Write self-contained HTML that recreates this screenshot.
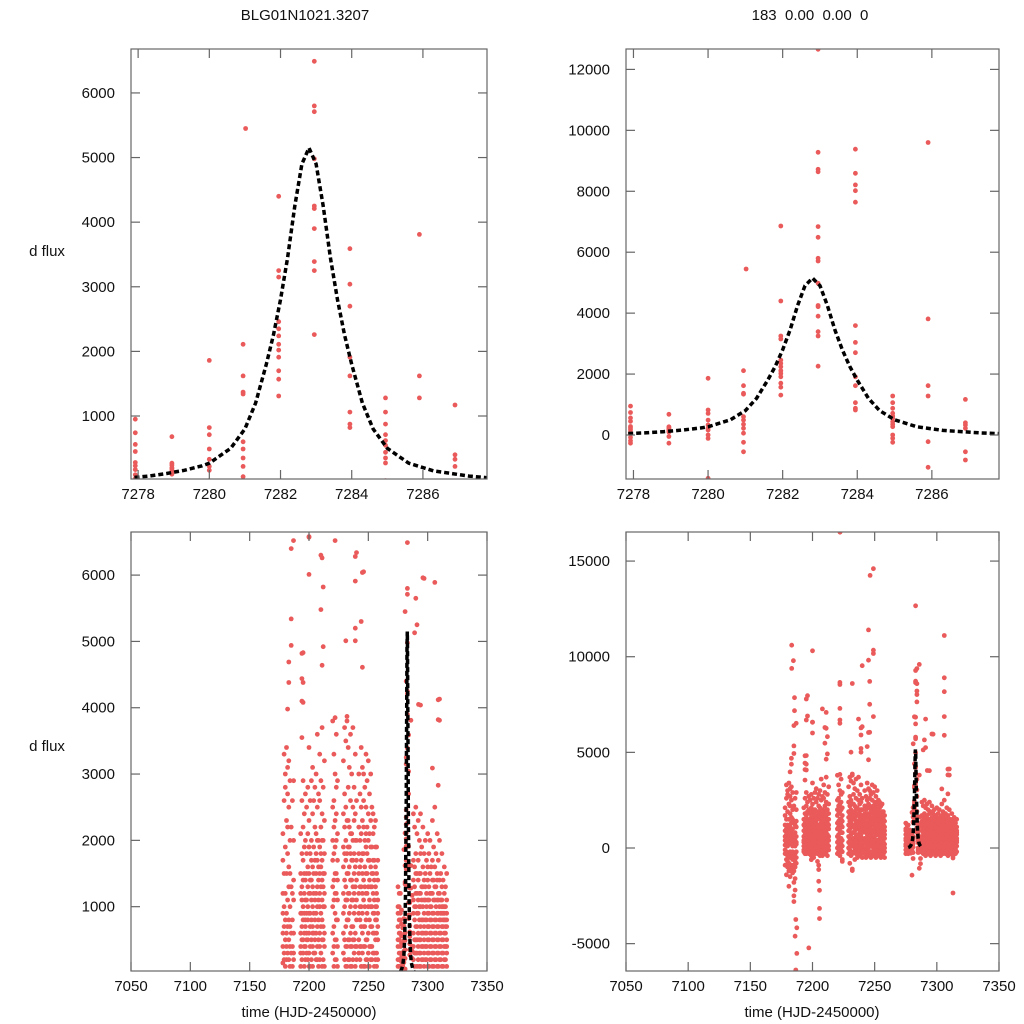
<!DOCTYPE html>
<html><head><meta charset="utf-8"><style>
html,body{margin:0;padding:0;background:#fff;}
svg{display:block;font-family:"Liberation Sans",sans-serif;}
</style></head><body>
<svg id="chart" width="1024" height="1024" viewBox="0 0 1024 1024" xmlns="http://www.w3.org/2000/svg">
<rect width="1024" height="1024" fill="#fff"/>
<text x="305" y="20" text-anchor="middle" font-size="15" fill="#111">BLG01N1021.3207</text>
<text x="810" y="20" text-anchor="middle" font-size="15" fill="#111" style="white-space:pre" xml:space="preserve">183  0.00  0.00  0</text>
<text x="47" y="256" text-anchor="middle" font-size="15" fill="#111">d flux</text>
<text x="47" y="751" text-anchor="middle" font-size="15" fill="#111">d flux</text>
<text x="309" y="1017" text-anchor="middle" font-size="15" fill="#111">time (HJD-2450000)</text>
<text x="812" y="1017" text-anchor="middle" font-size="15" fill="#111">time (HJD-2450000)</text>
</svg>
<script>
// zoom-window nights (time, fluxes)
const zoomNightTimes = [7277.92, 7278.95, 7280.0, 7280.95, 7281.02, 7281.95, 7282.95, 7283.95, 7284.95, 7285.9, 7286.9];
const zoomNightFlux = [
 [950,740,560,450,280,230,170,90,30,-80,-190,-270],
 [680,270,240,200,180,150,120,100,-50,-270],
 [1860,820,710,490,330,220,160,0,-110,-1420],
 [2110,1620,1370,1340,600,490,350,220,60,-240,-550],
 [5450],
 [6860,4400,3250,3150,2460,2350,2240,2110,2020,1910,1700,1570,1310],
 [12660,9280,8720,8640,6840,6490,5800,5710,4980,4250,4210,3900,3390,3250,2260],
 [9380,8590,8210,8020,7640,3590,3040,2700,1910,1620,1060,875,820],
 [1280,1060,875,711,620,547,438,350,273,0,-109,-240],
 [9600,3810,1620,1280,-220,-1060],
 [1170,400,330,220,-550,-820]
];
// season nights
const nightTimes = [7178,7179,7180,7181,7182,7183,7184,7185,7186,7187,
 7193,7194,7195,7196,7197,7198,7199,7200,7201,7202,7203,7204,7205,7206,7207,7208,7209,7210,7211,7212,7213,
 7220,7221,7222,7223,7224,
 7229,7230,7231,7232,7233,7234,7235,7236,7237,7238,7239,7240,
 7242,7243,7244,7245,7246,7247,7248,7249,7250,7251,7252,7253,7254,7255,7256,7257,7258,
 7275,7276,7277,
 7288,7289,7290,7291,7292,7293,7294,7295,7296,7297,7298,7299,7300,7301,7302,7303,7304,7305,7306,7307,7308,7309,7310,7311,7312,7313,7314,7315,7316];
const nightFlux = [
[-300,150,600,1200,-900,2100,400,-100,900,1700],
[200,-600,1000,2600,-1400,300,700,1500,-200,3300],
[-1000,-400,500,1900,2800,100,1200,-700,800,3000],
[400,-1200,1500,2300,-300,600,3400,900,-800,200],
[-500,1100,2700,300,-1500,1800,700,-200,2200,3100],
[800,-900,200,1600,3200,-400,1300,500,2500,-1100],
[-1300,2000,400,-600,1000,2900,100,1500,-200,700],
[-1800,-2500,-2800,-1200,600,1300,-400,2200,300,-900],
[-2200,-1600,-700,400,1200,-300,2600,800,-1000,100],
[-500,300,1100,-200,2000,600,-800,1400,200,2900],
[-200,300,900,1500,600,100,2100,400,1200,-100],
[200,700,1300,-300,1800,500,2600,900,0,1100],
[-100,500,1000,1700,300,2200,800,-300,1400,2900],
[100,600,1200,-200,1900,400,900,1500,2400,0],
[-300,400,800,1400,200,2000,700,-100,1100,2700],
[0,500,1100,1800,300,2500,900,-200,1500,600],
[-400,200,800,1300,2100,500,2800,1000,-100,1600],
[300,900,1500,-200,2300,600,3400,1200,100,1900],
[-500,100,700,1200,1800,400,2600,900,-200,1400],
[200,800,1400,2000,-300,500,2900,1100,0,1700],
[-200,400,1000,1600,2400,700,3100,1300,100,600],
[-700,0,600,1200,1900,300,2600,900,-300,1500],
[-900,-300,500,1100,2200,300,1700,800,-100,2800],
[-400,200,900,1500,2100,600,3000,1200,0,1800],
[-200,400,1000,1700,2500,700,3600,1300,200,2000],
[-400,100,800,1400,2000,500,2700,1100,-100,1600],
[0,600,1200,1900,2600,400,3300,1000,200,1500],
[-300,300,900,1600,2200,700,2900,1300,0,1800],
[-200,500,1100,1700,2400,800,3700,1400,100,2000],
[-400,200,700,1300,2000,500,2800,1000,-100,1500],
[-100,400,1000,1500,2300,600,3200,1200,100,1800],
[-300,300,1000,1700,2500,600,3800,1300,0,2000],
[-200,400,1100,1800,2600,700,3300,1400,100,2200],
[-400,200,900,1500,2300,500,3000,1200,-100,1900],
[-100,500,1200,2000,2800,800,3600,1500,200,2400],
[-600,100,800,1400,2100,400,2900,1100,-200,1700],
[-300,300,900,1600,2400,600,3200,1200,0,1900],
[-800,200,1000,1800,2700,500,3700,1400,-100,2200],
[-400,400,1100,1700,2500,700,3500,1300,100,2000],
[-1100,100,800,1500,2300,400,3800,1100,-300,1800],
[-200,500,1200,1900,2800,800,3400,1500,200,2300],
[-600,200,900,1600,2200,500,3100,1200,0,1900],
[-300,400,1000,1800,2600,600,3600,1400,100,2100],
[-500,100,700,1400,2100,400,3000,1100,-100,1700],
[-200,500,1100,1700,2500,700,3700,1300,200,2000],
[-400,300,900,1500,2300,500,2800,1200,0,1800],
[-300,400,1000,1600,2400,600,3300,1300,100,2000],
[-500,200,800,1400,2000,400,2600,1100,-100,1700],
[-300,300,900,1500,2200,500,3000,1200,0,1800],
[-500,200,800,1300,2000,400,2700,1000,-100,1600],
[-200,400,1000,1700,2500,700,3400,1300,100,2100],
[-400,300,900,1500,2300,600,3100,1200,0,1800],
[-300,400,1100,1800,2600,700,3000,1400,100,2200],
[-500,100,700,1300,2000,400,2800,1000,-200,1600],
[-200,500,1200,1900,2500,800,3300,1500,200,2100],
[-400,200,900,1500,2200,500,2900,1200,0,1800],
[-300,300,1000,1700,2400,600,3200,1300,100,2000],
[-500,100,800,1400,2100,400,2700,1100,-100,1700],
[-200,400,1000,1600,2300,700,3000,1300,200,1900],
[-400,200,700,1300,1900,400,2500,1000,-100,1500],
[-300,300,900,1500,2100,600,2400,1200,0,1700],
[-500,100,600,1100,1700,300,2200,900,-200,1400],
[-400,200,800,1300,1900,500,2300,1000,0,1600],
[-300,100,600,1000,1500,300,1900,800,-100,1200],
[-500,0,500,900,1400,200,1700,700,-200,1100],
[-300,100,500,900,1300,200,700,-100,400,1000],
[-200,200,600,1000,300,800,-100,500,1200,100],
[-300,0,400,800,1200,200,600,-100,300,900],
[-200,200,600,1100,1700,400,2400,900,0,1400],
[-300,100,500,1000,1600,300,2200,800,-100,1300],
[-200,300,700,1200,1800,500,2500,1000,0,1500],
[-400,100,500,900,1500,300,2100,700,-200,1200],
[-200,200,600,1100,1700,400,2300,900,0,1400],
[-300,100,500,1000,1500,300,2000,800,-100,1200],
[-200,300,700,1200,1800,500,2400,1000,100,1500],
[-400,0,400,800,1300,200,1900,600,-200,1100],
[-300,200,600,1000,1600,400,2200,800,0,1300],
[-200,100,500,900,1400,300,1800,700,-100,1100],
[-300,200,600,1100,1500,400,2000,800,0,1300],
[-400,0,400,800,1200,200,1700,600,-200,1000],
[-200,300,700,1100,1600,500,2100,900,100,1400],
[-300,100,500,900,1300,300,1800,700,-100,1100],
[-200,200,600,1000,1500,400,2000,800,0,1200],
[-400,0,400,800,1200,200,1600,600,-200,1000],
[-200,300,700,1200,1700,500,2300,900,100,1400],
[-300,100,500,900,1400,300,1900,700,-100,1100],
[-200,200,600,1100,1600,400,2500,800,0,1300],
[-300,0,400,800,1300,200,1800,600,-100,1000],
[-200,300,700,1100,1500,500,2100,900,100,1400],
[-400,100,500,900,1200,300,1700,700,-200,1100],
[-200,200,600,1000,1400,400,2000,800,0,1200],
[-300,0,400,800,1100,200,1500,600,-100,900],
[-200,300,700,1000,1300,500,1800,900,100,1100],
[-400,100,500,800,1000,300,1400,700,-200,900],
[-200,200,600,900,1200,400,1600,800,0,1000],
[-300,0,400,700,1000,200,1300,600,-100,800],
[-200,300,500,800,1100,400,1500,700,100,900]
];
// isolated points
const outlierTimes = [7186.9,7185,7185,7185,7183,7183,7182,7194,7194,7194,7194,7200,7200,7210,7212,7210,7212,7211,7222,7239,7239,7245,7244,7239,7231,7239,7245,7232,7222,7297,7306,7310,7310,7294,
 7222.1,7249,7246.3,7245,7249,7249,7245,7240,7232,7222,7222,7246,7246,7222,7222,7237,7240,7246,7249,7200,7196,7195,7196,7195,7200,7208,7211,7211,7195,7195,7195,7183.3,7184.6,7183.3,7185.5,7185.5,7181,7186.6,7187.4,7186,7187.4,7186.6,7197,7205.6,7205.6,7205.6,7205,7205,7199,7224,7232,7306,7306,7306,7306,7308.9,7308.9,7304,7308.9,7291,7290,7291,7289,7292.3,7296,7313,7313];
const outlierFlux = [6520,6400,5340,4940,4690,4380,3980,4820,4440,4100,3550,6580,6010,6300,5820,5480,4920,4640,6520,6280,5910,6040,5300,5200,5010,5010,4610,3870,3850,5950,5890,4130,3810,4040,
 16510,14600,14250,11400,10340,10170,9820,9530,8600,8660,8550,8710,7510,7300,6690,6740,6340,6050,6870,10310,7960,7790,6900,6690,6570,7270,7090,6260,4830,4380,4080,10600,9790,9390,7860,7180,-2000,-3740,-4170,-4610,-5510,-6380,-5220,-3160,-3690,-2210,-1740,-1130,-610,-700,-1180,11110,8900,8170,6870,4120,3820,3090,2830,6740,5650,5250,5130,4050,5960,-2350,-520];
// model curve samples
const modelTimes = [7277.0,7277.8,7278.3,7278.8,7279.3,7279.8,7280.0,7280.6,7281.0,7281.3,7281.6,7281.8,7282.0,7282.2,7282.4,7282.6,7282.8,7283.0,7283.2,7283.4,7283.6,7283.8,7284.0,7284.3,7284.6,7285.0,7285.6,7286.3,7287.3,7287.8,7288.5];
const modelFlux = [25,45,70,110,160,230,270,500,800,1200,1800,2250,2800,3450,4250,4900,5150,4900,4250,3450,2800,2250,1800,1200,800,500,270,150,70,45,25];

const pointsT = [], pointsF = [];
zoomNightTimes.forEach((t,i)=>zoomNightFlux[i].forEach(v=>{pointsT.push(t);pointsF.push(v);}));
nightTimes.forEach((t,i)=>nightFlux[i].forEach(v=>{pointsT.push(t);pointsF.push(v);}));
outlierTimes.forEach((t,i)=>{pointsT.push(t);pointsF.push(outlierFlux[i]);});

const NS='http://www.w3.org/2000/svg';
const svg=document.getElementById('chart');
function mk(tag,attrs,parent){const e=document.createElementNS(NS,tag);for(const k in attrs)e.setAttribute(k,attrs[k]);(parent||svg).appendChild(e);return e;}

const panels=[
 {id:'top-left',x0:131,x1:487,y0:49,y1:479,xmin:7277.8,xmax:7287.8,ymin:25,ymax:6680,xt:[7278,7280,7282,7284,7286],yt:[1000,2000,3000,4000,5000,6000]},
 {id:'top-right',x0:626,x1:999,y0:49,y1:479,xmin:7277.8,xmax:7287.8,ymin:-1444,ymax:12670,xt:[7278,7280,7282,7284,7286],yt:[0,2000,4000,6000,8000,10000,12000]},
 {id:'bottom-left',x0:131,x1:487,y0:532,y1:971,xmin:7050,xmax:7350,ymin:30,ymax:6650,xt:[7050,7100,7150,7200,7250,7300,7350],yt:[1000,2000,3000,4000,5000,6000]},
 {id:'bottom-right',x0:626,x1:999,y0:532,y1:971,xmin:7050,xmax:7350,ymin:-6430,ymax:16520,xt:[7050,7100,7150,7200,7250,7300,7350],yt:[-5000,0,5000,10000,15000]}
];
const defs=mk('defs',{});
panels.forEach(p=>{
 const sx=t=>p.x0+(t-p.xmin)/(p.xmax-p.xmin)*(p.x1-p.x0);
 const sy=v=>p.y1-(v-p.ymin)/(p.ymax-p.ymin)*(p.y1-p.y0);
 const cp=mk('clipPath',{id:'clip-'+p.id},defs);
 mk('rect',{x:p.x0,y:p.y0,width:p.x1-p.x0,height:p.y1-p.y0},cp);
 const g=mk('g',{'clip-path':'url(#clip-'+p.id+')'});
 
 
 pointsT.forEach((t,i)=>{
  const x=sx(t),y=sy(pointsF[i]);
  if(x<p.x0-4||x>p.x1+4||y<p.y0-4||y>p.y1+4)return;
  const c=mk('circle',{cx:x.toFixed(1),cy:y.toFixed(1),r:2.4,fill:'#ea5a5a'},g);
  
  
 });
 const d=modelTimes.map((t,i)=>(i?'L':'M')+sx(t).toFixed(1)+','+sy(modelFlux[i]).toFixed(1)).join(' ');
 const ml=mk('path',{d:d,fill:'none',stroke:'#000','stroke-width':3.5,'stroke-dasharray':'5,3'},g);
 
 
 const fr=mk('rect',{x:p.x0,y:p.y0,width:p.x1-p.x0,height:p.y1-p.y0,fill:'none',stroke:'#666','stroke-width':1.2});
 
 
 p.xt.forEach(t=>{
  const x=sx(t);
  mk('line',{x1:x,x2:x,y1:p.y1,y2:p.y1-9,stroke:'#666','stroke-width':1.2});
  mk('line',{x1:x,x2:x,y1:p.y0,y2:p.y0+9,stroke:'#666','stroke-width':1.2});
  const tx=mk('text',{x:x,y:p.y1+20,'text-anchor':'middle','font-size':15,fill:'#111'});
  tx.textContent=t;
  
  
 });
 p.yt.forEach(v=>{
  const y=sy(v);
  mk('line',{x1:p.x0,x2:p.x0+9,y1:y,y2:y,stroke:'#666','stroke-width':1.2});
  mk('line',{x1:p.x1,x2:p.x1-9,y1:y,y2:y,stroke:'#666','stroke-width':1.2});
  const ty=mk('text',{x:p.x0-16,y:y+5,'text-anchor':'end','font-size':15,fill:'#111'});
  ty.textContent=v;
  
  
 });
});
</script>
</body></html>
